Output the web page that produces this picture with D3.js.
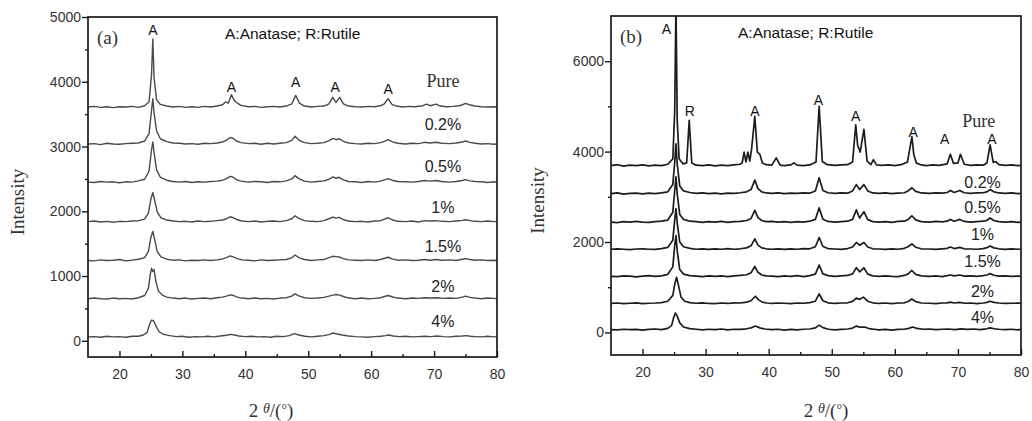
<!DOCTYPE html>
<meta charset="utf-8">
<style>

body { margin: 0; background: #fff; }

.trace {
  fill: none;
  stroke-linejoin: round;
}

.frame {
  fill: none;
  stroke: #1a1a1a;
  stroke-width: 1.7px;
}

.axis text {
  font: 14px "Liberation Sans", Arial, sans-serif;
  fill: #333;
}

.axis line {
  stroke: #1a1a1a;
  stroke-width: 1.4px;
}

.axis path { display: none; }

.peak {
  font: 14px "Liberation Sans", Arial, sans-serif;
  fill: #111;
  text-anchor: middle;
}

.sample {
  font: 16px "Liberation Sans", Arial, sans-serif;
  fill: #222;
  text-anchor: middle;
}

.serif {
  font-family: "Liberation Serif", "Times New Roman", serif;
  fill: #333;
}

</style>
<body>
<script src="https://cdn.jsdelivr.net/npm/d3@7/dist/d3.min.js"></script>
<script>

// sample names, top to bottom
var samples = ["Pure", "0.2%", "0.5%", "1%", "1.5%", "2%", "4%"];

// ---- panel (a): [2theta, counts], stacked with offsets
var aOffsets = [3610, 3040, 2450, 1840, 1240, 650, 60];

var aPure = [[15,0],[16,10],[17,-5],[18,5],[19,-10],[20,5],[21,0],[22,10],[23,-5],[24,20],[24.7,80],[25.1,500],[25.3,1050],[25.5,450],[25.9,110],[26.5,40],[27.5,15],[28.5,0],[29.5,10],[30.5,-5],[31.5,5],[32.5,-5],[33.5,10],[34.5,0],[35.5,15],[36.4,35],[36.9,80],[37.3,60],[37.8,190],[38.2,110],[38.6,70],[39.3,25],[40.5,5],[41.5,10],[42.5,-5],[43.5,5],[44.5,10],[45.5,0],[46.5,15],[47.4,50],[48.0,180],[48.6,60],[49.4,15],[50.5,0],[51.5,10],[52.5,15],[53.3,50],[53.9,150],[54.4,70],[55.0,150],[55.6,50],[56.4,15],[57.5,5],[58.5,0],[59.5,10],[60.5,5],[61.5,20],[62.1,50],[62.7,130],[63.3,40],[64.0,15],[65,0],[66,10],[67,5],[68.2,20],[68.8,45],[69.4,20],[70.3,45],[71.0,15],[72,5],[73,10],[74,20],[74.5,35],[75.0,55],[75.6,35],[76.5,15],[77.5,5],[78.5,0],[79.5,5],[80,0]];

var a02 = [[15,0],[16,5],[17,-10],[18,10],[19,0],[20,-5],[21,5],[22,10],[23,15],[24,45],[24.7,160],[25.1,520],[25.3,700],[25.5,480],[25.9,200],[26.5,80],[27.5,35],[28.5,15],[29.5,10],[30.5,0],[31.5,5],[32.5,-5],[33.5,10],[34.5,5],[35.5,15],[36.4,30],[37.0,60],[37.6,100],[38.0,90],[38.6,45],[39.3,20],[40.5,5],[41.5,10],[42.5,-5],[43.5,10],[44.5,0],[45.5,10],[46.5,20],[47.4,55],[47.9,120],[48.5,60],[49.4,20],[50.5,5],[51.5,10],[52.5,20],[53.3,50],[53.9,85],[54.4,65],[54.9,80],[55.6,40],[56.4,15],[57.5,5],[58.5,0],[59.5,10],[60.5,5],[61.5,20],[62.1,40],[62.7,65],[63.3,35],[64.2,10],[65.5,0],[66.5,10],[67.5,5],[68.5,25],[69.3,15],[70.3,25],[71.2,10],[72.5,5],[73.5,15],[74.5,30],[75.0,45],[75.7,25],[76.5,10],[77.5,0],[78.5,5],[79.5,-5],[80,0]];

var a05 = [[15,0],[16,-5],[17,10],[18,0],[19,5],[20,-10],[21,5],[22,0],[23,20],[24,45],[24.7,170],[25.1,500],[25.3,620],[25.5,460],[25.9,190],[26.5,75],[27.5,30],[28.5,10],[29.5,0],[30.5,10],[31.5,-5],[32.5,5],[33.5,0],[34.5,10],[35.5,15],[36.4,30],[37.0,55],[37.6,90],[38.0,80],[38.6,40],[39.3,15],[40.5,0],[41.5,10],[42.5,5],[43.5,-5],[44.5,10],[45.5,5],[46.5,20],[47.4,50],[47.9,100],[48.5,55],[49.4,15],[50.5,0],[51.5,10],[52.5,20],[53.3,45],[53.9,80],[54.4,60],[54.9,75],[55.6,35],[56.4,10],[57.5,5],[58.5,-5],[59.5,10],[60.5,0],[61.5,15],[62.1,35],[62.7,55],[63.3,30],[64.2,10],[65.5,5],[66.5,0],[67.5,10],[68.5,25],[69.3,15],[70.3,25],[71.2,10],[72.5,0],[73.5,10],[74.5,25],[75.0,40],[75.7,20],[76.5,10],[77.5,5],[78.5,-5],[79.5,5],[80,0]];

var a1 = [[15,0],[16,10],[17,-5],[18,5],[19,-10],[20,5],[21,0],[22,10],[23,15],[24,40],[24.6,130],[25.0,350],[25.3,450],[25.6,330],[26.0,150],[26.6,60],[27.5,25],[28.5,10],[29.5,0],[30.5,5],[31.5,-5],[32.5,10],[33.5,0],[34.5,5],[35.5,15],[36.4,25],[37.0,45],[37.6,75],[38.1,60],[38.7,30],[39.5,10],[40.5,0],[41.5,10],[42.5,-5],[43.5,5],[44.5,10],[45.5,0],[46.5,15],[47.4,45],[47.9,90],[48.5,50],[49.4,15],[50.5,5],[51.5,0],[52.5,15],[53.3,45],[53.9,70],[54.4,55],[54.9,65],[55.6,30],[56.4,10],[57.5,0],[58.5,5],[59.5,-5],[60.5,10],[61.5,15],[62.1,40],[62.7,60],[63.3,30],[64.2,5],[65.5,0],[66.5,10],[67.5,-5],[68.5,15],[69.3,10],[70.3,15],[71.2,5],[72.5,0],[73.5,10],[74.5,20],[75.0,30],[75.7,15],[76.5,5],[77.5,0],[78.5,10],[79.5,0],[80,5]];

var a15 = [[15,0],[16,-5],[17,10],[18,0],[19,5],[20,15],[21,-5],[22,5],[23,20],[24,45],[24.6,140],[25.0,360],[25.3,450],[25.6,320],[26.0,140],[26.6,55],[27.5,20],[28.5,5],[29.5,10],[30.5,-5],[31.5,5],[32.5,0],[33.5,10],[34.5,0],[35.5,10],[36.4,25],[37.0,45],[37.6,70],[38.1,55],[38.7,30],[39.5,10],[40.5,5],[41.5,-5],[42.5,10],[43.5,0],[44.5,5],[45.5,10],[46.5,15],[47.4,40],[47.9,85],[48.5,45],[49.4,15],[50.5,0],[51.5,10],[52.5,15],[53.3,45],[53.9,65],[54.4,60],[54.9,55],[55.6,30],[56.4,10],[57.5,5],[58.5,0],[59.5,10],[60.5,0],[61.5,15],[62.1,35],[62.7,50],[63.3,25],[64.2,5],[65.5,10],[66.5,0],[67.5,5],[68.5,15],[69.3,5],[70.3,15],[71.2,5],[72.5,10],[73.5,0],[74.5,20],[75.0,30],[75.7,15],[76.5,5],[77.5,10],[78.5,0],[79.5,5],[80,0]];

var a2 = [[15,0],[16,10],[17,0],[18,-5],[19,10],[20,0],[21,5],[22,-5],[23,15],[24,50],[24.6,160],[24.9,380],[25.1,470],[25.3,420],[25.5,450],[25.8,260],[26.2,120],[26.8,55],[27.5,25],[28.5,10],[29.5,0],[30.5,10],[31.5,-5],[32.5,5],[33.5,10],[34.5,0],[35.5,15],[36.4,25],[37.0,40],[37.6,60],[38.1,50],[38.7,25],[39.5,10],[40.5,0],[41.5,10],[42.5,0],[43.5,5],[44.5,-5],[45.5,10],[46.5,15],[47.4,40],[47.9,75],[48.5,45],[49.4,15],[50.5,5],[51.5,10],[52.5,20],[53.3,40],[53.9,55],[54.4,65],[55.0,55],[55.7,30],[56.5,10],[57.5,0],[58.5,10],[59.5,0],[60.5,5],[61.5,15],[62.1,35],[62.7,50],[63.3,30],[64.2,10],[65.5,0],[66.5,10],[67.5,5],[68.5,15],[69.5,10],[70.5,15],[71.5,5],[72.5,10],[73.5,5],[74.5,25],[75.0,40],[75.7,20],[76.5,10],[77.5,0],[78.5,10],[79.5,5],[80,0]];

var a4 = [[15,0],[16,5],[17,-5],[18,10],[19,0],[20,5],[21,-5],[22,10],[23,10],[23.8,30],[24.4,70],[24.8,200],[25.1,260],[25.4,250],[25.8,170],[26.3,80],[27.0,40],[28.0,20],[29.0,5],[30.0,10],[31.0,-5],[32.0,5],[33.0,0],[34.0,10],[35.0,0],[36.0,15],[37.0,25],[37.7,40],[38.3,30],[39.0,15],[40.0,5],[41.0,10],[42.0,0],[43.0,5],[44.0,-5],[45.0,10],[46.0,5],[47.0,20],[47.8,50],[48.5,30],[49.5,10],[50.5,0],[51.5,10],[52.5,20],[53.3,35],[53.9,60],[54.6,45],[55.4,30],[56.4,15],[57.5,5],[58.5,0],[59.5,-5],[60.5,5],[61.5,10],[62.3,20],[62.8,30],[63.5,15],[64.5,5],[65.5,10],[66.5,0],[67.5,5],[68.5,10],[69.5,5],[70.5,15],[71.5,5],[72.5,0],[73.5,10],[74.5,15],[75.1,20],[75.8,10],[76.5,5],[77.5,0],[78.5,10],[79.5,0],[80,5]];

var aSeries = [aPure, a02, a05, a1, a15, a2, a4];
var aLabelY = [3920, 3256, 2608, 1975, 1373, 756, 216];
var aPeaks = [["A",25.3,4720],["A",37.8,3840],["A",48.0,3920],["A",54.3,3840],["A",62.7,3810]];

// ---- panel (b)
var bOffsets = [3690, 3070, 2440, 1840, 1240, 640, 60];

var bPure = [[15,0],[16,20],[17,-10],[18,10],[19,0],[20,15],[21,-5],[22,10],[23,0],[24,30],[24.8,150],[25.1,1200],[25.3,3600],[25.5,1000],[25.8,150],[26.4,40],[27.0,60],[27.4,1000],[27.8,60],[28.5,10],[29.5,0],[30.5,15],[31.5,-5],[32.5,10],[33.5,0],[34.5,15],[35.4,30],[35.8,60],[36.1,300],[36.4,80],[36.7,300],[37.0,100],[37.3,380],[37.8,1090],[38.2,300],[38.6,250],[39.0,60],[39.6,20],[40.5,10],[41.2,170],[41.8,10],[42.5,0],[43.5,15],[44.0,60],[44.5,10],[45.5,0],[46.5,15],[47.5,80],[48.0,1310],[48.5,90],[49.3,20],[50.5,5],[51.5,15],[52.5,20],[53.3,80],[53.8,900],[54.1,450],[54.5,300],[55.1,800],[55.6,100],[56.2,20],[56.6,130],[57.1,15],[58,5],[59,15],[60,0],[61,20],[62.0,80],[62.4,400],[62.7,640],[63.0,250],[63.4,60],[64.2,15],[65,0],[66,15],[67,5],[68.3,40],[68.8,250],[69.3,50],[70.0,60],[70.4,250],[71.0,30],[72,5],[73,15],[74,10],[74.6,60],[75.1,460],[75.6,70],[76.0,90],[76.5,20],[77.5,5],[78.5,15],[79.5,0],[80,5]];

var b02 = [[15,0],[16,15],[17,-10],[18,5],[19,10],[20,-5],[21,10],[22,0],[23,15],[24,40],[24.8,200],[25.1,700],[25.3,1100],[25.5,650],[25.9,170],[26.5,60],[27.5,25],[28.5,5],[29.5,15],[30.5,0],[31.5,10],[32.5,-5],[33.5,10],[34.5,5],[35.5,20],[36.5,40],[37.2,90],[37.8,300],[38.3,110],[38.9,40],[39.6,15],[40.5,5],[41.5,15],[42.5,0],[43.5,10],[44.5,5],[45.5,15],[46.5,10],[47.4,60],[48.0,350],[48.6,70],[49.4,20],[50.5,5],[51.5,15],[52.5,10],[53.3,60],[53.9,200],[54.4,90],[55.1,200],[55.7,60],[56.5,15],[57.5,5],[58.5,15],[59.5,0],[60.5,10],[61.5,20],[62.1,60],[62.7,130],[63.3,50],[64.2,15],[65.5,5],[66.5,15],[67.5,10],[68.3,25],[68.8,70],[69.4,25],[70.3,70],[71.0,20],[72,5],[73,15],[74,20],[74.6,40],[75.1,90],[75.7,40],[76.5,15],[77.5,5],[78.5,15],[79.5,0],[80,5]];

var b05 = [[15,0],[16,-10],[17,10],[18,0],[19,15],[20,0],[21,-5],[22,10],[23,20],[24,45],[24.8,220],[25.1,700],[25.3,1000],[25.5,620],[25.9,170],[26.5,60],[27.5,20],[28.5,10],[29.5,-5],[30.5,10],[31.5,0],[32.5,15],[33.5,-5],[34.5,10],[35.5,15],[36.5,35],[37.2,80],[37.8,260],[38.3,100],[38.9,35],[39.6,10],[40.5,15],[41.5,0],[42.5,10],[43.5,-5],[44.5,10],[45.5,0],[46.5,20],[47.4,60],[48.0,315],[48.6,65],[49.4,15],[50.5,0],[51.5,10],[52.5,20],[53.3,60],[53.9,270],[54.4,90],[55.1,230],[55.7,55],[56.5,10],[57.5,0],[58.5,10],[59.5,-5],[60.5,15],[61.5,20],[62.1,60],[62.7,140],[63.3,50],[64.2,10],[65.5,0],[66.5,15],[67.5,5],[68.3,20],[68.8,60],[69.4,20],[70.3,60],[71.0,15],[72,0],[73,10],[74,20],[74.6,40],[75.1,90],[75.7,35],[76.5,10],[77.5,0],[78.5,10],[79.5,-5],[80,0]];

var b1 = [[15,0],[16,10],[17,0],[18,-10],[19,5],[20,10],[21,0],[22,-5],[23,15],[24,40],[24.8,200],[25.1,650],[25.3,900],[25.5,580],[25.9,160],[26.5,55],[27.5,20],[28.5,0],[29.5,10],[30.5,-5],[31.5,10],[32.5,0],[33.5,15],[34.5,0],[35.5,10],[36.5,30],[37.2,75],[37.8,230],[38.3,90],[38.9,30],[39.6,10],[40.5,0],[41.5,10],[42.5,-5],[43.5,10],[44.5,0],[45.5,15],[46.5,10],[47.4,55],[48.0,260],[48.6,60],[49.4,15],[50.5,5],[51.5,-5],[52.5,15],[53.3,50],[53.9,150],[54.4,90],[55.1,150],[55.7,50],[56.5,10],[57.5,5],[58.5,-5],[59.5,10],[60.5,0],[61.5,20],[62.1,55],[62.7,120],[63.3,45],[64.2,10],[65.5,5],[66.5,-5],[67.5,10],[68.3,20],[68.8,50],[69.4,15],[70.3,40],[71.0,10],[72,5],[73,0],[74,15],[74.6,35],[75.1,70],[75.7,30],[76.5,10],[77.5,-5],[78.5,10],[79.5,0],[80,5]];

var b15 = [[15,0],[16,-5],[17,10],[18,5],[19,-10],[20,5],[21,15],[22,0],[23,10],[24,45],[24.8,210],[25.1,680],[25.3,900],[25.5,560],[25.9,150],[26.5,50],[27.5,15],[28.5,5],[29.5,-5],[30.5,10],[31.5,0],[32.5,10],[33.5,-5],[34.5,10],[35.5,20],[36.5,35],[37.2,80],[37.8,220],[38.3,90],[38.9,30],[39.6,10],[40.5,5],[41.5,-5],[42.5,10],[43.5,0],[44.5,15],[45.5,-5],[46.5,15],[47.4,50],[48.0,250],[48.6,55],[49.4,15],[50.5,0],[51.5,10],[52.5,20],[53.3,55],[53.9,190],[54.4,100],[55.1,190],[55.7,50],[56.5,10],[57.5,0],[58.5,10],[59.5,0],[60.5,-5],[61.5,20],[62.1,55],[62.7,130],[63.3,45],[64.2,10],[65.5,0],[66.5,10],[67.5,-5],[68.3,15],[68.8,30],[69.4,10],[70.3,30],[71.0,5],[72,10],[73,0],[74,15],[74.6,30],[75.1,60],[75.7,25],[76.5,5],[77.5,10],[78.5,0],[79.5,5],[80,0]];

var b2 = [[15,0],[16,10],[17,-5],[18,5],[19,15],[20,-5],[21,5],[22,10],[23,20],[24,50],[24.8,180],[25.1,420],[25.4,580],[25.7,400],[26.1,140],[26.7,50],[27.5,20],[28.5,5],[29.5,15],[30.5,0],[31.5,-5],[32.5,10],[33.5,0],[34.5,15],[35.5,10],[36.5,30],[37.2,60],[37.9,160],[38.4,80],[39.0,30],[39.7,10],[40.5,0],[41.5,10],[42.5,5],[43.5,-5],[44.5,10],[45.5,5],[46.5,20],[47.4,50],[48.0,210],[48.6,60],[49.4,15],[50.5,0],[51.5,10],[52.5,15],[53.3,45],[53.9,120],[54.4,90],[55.0,140],[55.7,50],[56.5,15],[57.5,0],[58.5,10],[59.5,-5],[60.5,10],[61.5,15],[62.1,45],[62.7,100],[63.3,40],[64.2,10],[65.5,5],[66.5,-5],[67.5,10],[68.3,15],[68.8,30],[69.4,10],[70.3,25],[71.0,5],[72,10],[73,-5],[74,10],[74.6,25],[75.1,50],[75.7,25],[76.5,10],[77.5,0],[78.5,5],[79.5,10],[80,0]];

var b4 = [[15,0],[16,-5],[17,10],[18,0],[19,5],[20,-10],[21,5],[22,15],[23,0],[24,30],[24.6,90],[24.9,250],[25.2,370],[25.5,300],[25.9,150],[26.5,60],[27.5,25],[28.5,10],[29.5,-5],[30.5,10],[31.5,0],[32.5,15],[33.5,-5],[34.5,10],[35.5,5],[36.5,20],[37.2,40],[37.9,80],[38.6,40],[39.4,15],[40.5,0],[41.5,10],[42.5,-10],[43.5,5],[44.5,-5],[45.5,10],[46.5,15],[47.4,40],[48.0,100],[48.7,40],[49.5,10],[50.5,-5],[51.5,5],[52.5,15],[53.3,35],[53.9,80],[54.5,55],[55.2,60],[55.9,25],[56.7,10],[57.5,-5],[58.5,5],[59.5,-10],[60.5,5],[61.5,10],[62.2,30],[62.8,60],[63.5,30],[64.5,10],[65.5,15],[66.5,0],[67.5,10],[68.5,15],[69.5,0],[70.5,20],[71.5,5],[72.5,15],[73.5,0],[74.5,20],[75.1,40],[75.8,20],[76.5,10],[77.5,0],[78.5,10],[79.5,-5],[80,5]];

var bSeries = [bPure, b02, b05, b1, b15, b2, b4];
var bLabelY = [4555, 3200, 2644, 2044, 1444, 778, 200];
var bPeaks = [["A",23.8,6600],["R",27.5,4780],["A",37.8,4780],["A",47.9,5040],["A",53.8,4670],["A",62.9,4330],["A",67.9,4160],["A",75.4,4160]];

var W = 1032, H = 421;

var svg = d3.select("body").append("svg")
    .attr("width", W)
    .attr("height", H);

function drawPanel(p) {
  var g = svg.append("g");

  var x = d3.scaleLinear().domain([15, 80]).range([p.left, p.right]);
  var y = d3.scaleLinear().domain(p.yDomain).range([p.bottom, p.top]);

  g.append("clipPath").attr("id", p.id + "clip")
    .append("rect")
      .attr("x", p.left).attr("y", p.top)
      .attr("width", p.right - p.left).attr("height", p.bottom - p.top);

  p.series.forEach(function(s, i) {
    var line = d3.line()
        .x(function(d) { return x(d[0]); })
        .y(function(d) { return y(d[1] + p.offsets[i]); });
    g.append("path")
        .datum(s)
        .attr("class", "trace")
        .attr("clip-path", "url(#" + p.id + "clip)")
        .attr("stroke", p.color)
        .attr("stroke-width", p.lineWidth)
        .attr("d", line);
  });

  // axes: y outward, x inward
  g.append("g").attr("class", "axis")
      .attr("transform", "translate(" + p.left + ",0)")
      .call(d3.axisLeft(y).tickValues(p.yTicks).tickSize(6).tickPadding(1).tickFormat(d3.format("d")));
  g.append("g").attr("class", "axis")
      .attr("transform", "translate(" + p.left + ",0)")
      .call(d3.axisLeft(y).tickValues(p.yMinor).tickSize(3).tickFormat(""));
  g.append("g").attr("class", "axis")
      .attr("transform", "translate(0," + p.bottom + ")")
      .call(d3.axisBottom(x).tickValues([20, 30, 40, 50, 60, 70, 80]).tickSize(-6).tickPadding(12));
  g.append("g").attr("class", "axis")
      .attr("transform", "translate(0," + p.bottom + ")")
      .call(d3.axisBottom(x).tickValues([25, 35, 45, 55, 65, 75]).tickSize(-3).tickFormat(""));

  g.append("rect")
      .attr("class", "frame")
      .attr("x", p.left).attr("y", p.top)
      .attr("width", p.right - p.left).attr("height", p.bottom - p.top);

  // peak markers
  g.selectAll(".peak").data(p.peaks).enter().append("text")
      .attr("class", "peak")
      .attr("x", function(d) { return x(d[1]); })
      .attr("y", function(d) { return y(d[2]); })
      .text(function(d) { return d[0]; });

  // sample names
  g.selectAll(".sample").data(samples).enter().append("text")
      .attr("class", function(d, i) { return i === 0 ? "sample serif" : "sample"; })
      .attr("x", function(d, i) { return x(i === 0 ? p.pureX : p.labelX); })
      .attr("y", function(d, i) { return y(p.labelY[i]); })
      .style("font-size", function(d, i) { return i === 0 ? "18px" : null; })
      .text(function(d) { return d; });

  g.append("text")
      .attr("class", "serif")
      .attr("x", p.left + 9).attr("y", p.top + 27)
      .style("font-size", "19px")
      .text(p.tag);

  g.append("text")
      .attr("x", p.legendX).attr("y", p.top + 22)
      .style("font", "15.5px 'Liberation Sans', Arial, sans-serif")
      .style("fill", "#111")
      .text("A:Anatase; R:Rutile");

  g.append("text")
      .attr("class", "serif")
      .attr("transform", "translate(" + p.yTitleX + "," + ((p.top + p.bottom) / 2 + 15) + ") rotate(-90)")
      .attr("text-anchor", "middle")
      .style("font-size", "19px")
      .text("Intensity");

  var xt = g.append("text")
      .attr("class", "serif")
      .attr("x", p.xTitleX).attr("y", 417)
      .attr("text-anchor", "middle")
      .style("font-size", "19px");
  xt.append("tspan").text("2 ");
  xt.append("tspan").style("font-style", "italic").style("font-size", "14px").attr("dy", -4).text("θ");
  xt.append("tspan").attr("dy", 4).text("/(");
  xt.append("tspan").attr("dy", -3).style("font-size", "14px").text("°");
  xt.append("tspan").attr("dy", 3).text(")");
}

drawPanel({
  id: "a", tag: "(a)",
  left: 88, right: 497, top: 17, bottom: 357,
  yDomain: [-250, 5000],
  yTicks: [0, 1000, 2000, 3000, 4000, 5000],
  yMinor: [500, 1500, 2500, 3500, 4500],
  series: aSeries, offsets: aOffsets,
  color: "#4a4a4a", lineWidth: 1.4,
  peaks: aPeaks, labelY: aLabelY, labelX: 71.4, pureX: 71.4,
  legendX: 225, yTitleX: 24, xTitleX: 271
});

drawPanel({
  id: "b", tag: "(b)",
  left: 611, right: 1021, top: 16, bottom: 355,
  yDomain: [-500, 7000],
  yTicks: [0, 2000, 4000, 6000],
  yMinor: [1000, 3000, 5000],
  series: bSeries, offsets: bOffsets,
  color: "#1c1c1c", lineWidth: 1.7,
  peaks: bPeaks, labelY: bLabelY, labelX: 73.9, pureX: 73.3,
  legendX: 738, yTitleX: 544, xTitleX: 826
});

</script>
